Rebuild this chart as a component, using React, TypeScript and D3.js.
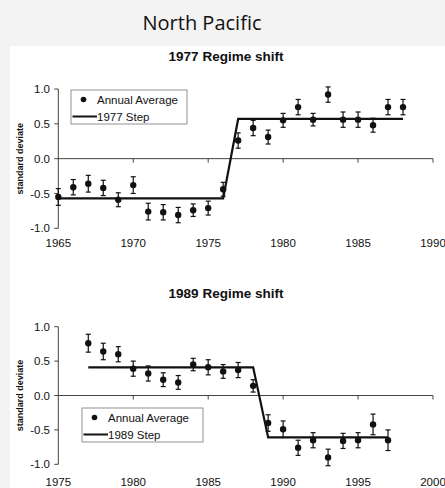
import React from "react";
import * as d3 from "d3";

const years1977 = d3.range(1965, 1989);
const avg1977 = [
  -0.55, -0.41, -0.36, -0.42, -0.59, -0.38, -0.76, -0.77, -0.81, -0.74, -0.71, -0.44,
  0.26, 0.44, 0.31, 0.55, 0.74, 0.56, 0.92, 0.56, 0.56, 0.48, 0.74, 0.74,
];
const err1977 = [
  0.12, 0.11, 0.12, 0.11, 0.1, 0.12, 0.12, 0.11, 0.11, 0.09, 0.1, 0.1,
  0.11, 0.11, 0.1, 0.1, 0.11, 0.09, 0.11, 0.11, 0.11, 0.1, 0.11, 0.11,
];
const step1977Years = [1965, 1976, 1977, 1988];
const step1977Values = [-0.57, -0.57, 0.57, 0.57];

const years1989 = d3.range(1977, 1998);
const avg1989 = [
  0.76, 0.64, 0.6, 0.39, 0.32, 0.23, 0.19, 0.45, 0.41, 0.35, 0.37, 0.14,
  -0.4, -0.49, -0.76, -0.65, -0.9, -0.66, -0.65, -0.42, -0.65,
];
const err1989 = [
  0.13, 0.12, 0.11, 0.11, 0.11, 0.1, 0.1, 0.09, 0.11, 0.1, 0.11, 0.09,
  0.12, 0.12, 0.11, 0.11, 0.12, 0.11, 0.11, 0.15, 0.15,
];
const step1989Years = [1977, 1988, 1989, 1997];
const step1989Values = [0.41, 0.41, -0.61, -0.61];

const yTicks = [1.0, 0.5, 0.0, -0.5, -1.0];

const font = "Liberation Sans, Arial, sans-serif";

type PanelProps = {
  title: string;
  titleY: number;
  top: number;
  bottom: number;
  xDomain: [number, number];
  years: number[];
  values: number[];
  errors: number[];
  stepYears: number[];
  stepValues: number[];
  stepLabel: string;
  legend: { x: number; y: number; w: number; h: number };
  labelGap: number;
};

function Panel(p: PanelProps) {
  const x = d3.scaleLinear().domain(p.xDomain).range([58.3, 433]);
  const y = d3.scaleLinear().domain([-1, 1]).range([p.bottom, p.top]);
  const xTicks = d3.range(p.xDomain[0], p.xDomain[1] + 1, 5);
  const stepLine = d3
    .line<number>()
    .x((_, i) => x(p.stepYears[i]))
    .y((v) => y(v));
  const axisColor = "#444";
  const lg = p.legend;
  return (
    <g fontFamily={font}>
      <text x={226} y={p.titleY} textAnchor="middle" fontWeight="bold" fontSize={13.5} fill="#111">
        {p.title}
      </text>
      <text
        transform={`translate(23,${y(0)}) rotate(-90)`}
        textAnchor="middle"
        fontWeight="bold"
        fontSize={9}
        fill="#111"
      >
        standard deviate
      </text>
      {/* y axis */}
      <line x1={x.range()[0]} x2={x.range()[0]} y1={y(1)} y2={y(-1)} stroke={axisColor} strokeWidth={1} />
      {yTicks.map((t) => (
        <g key={t}>
          <line x1={x.range()[0] - 4} x2={x.range()[0]} y1={y(t)} y2={y(t)} stroke={axisColor} />
          <text x={50} y={y(t)} dy="0.35em" textAnchor="end" fontSize={11.5} fill="#111">
            {t.toFixed(1)}
          </text>
        </g>
      ))}
      {/* x axis at zero */}
      <line x1={x.range()[0]} x2={x.range()[1]} y1={y(0)} y2={y(0)} stroke={axisColor} />
      {xTicks.map((t) => (
        <g key={t}>
          {t !== p.xDomain[0] && (
            <line x1={x(t)} x2={x(t)} y1={y(0)} y2={y(0) + 4} stroke={axisColor} />
          )}
          <text x={x(t)} y={y(-1) + p.labelGap} textAnchor="middle" fontSize={11.5} fill="#111">
            {t}
          </text>
        </g>
      ))}
      {/* step line */}
      <path d={stepLine(p.stepValues) || ""} fill="none" stroke="#111" strokeWidth={2.2} />
      {/* error bars and points */}
      {p.years.map((yr, i) => {
        const cx = x(yr);
        const hi = y(p.values[i] + p.errors[i]);
        const lo = y(p.values[i] - p.errors[i]);
        return (
          <g key={yr} stroke="#111" strokeWidth={1.2}>
            <line x1={cx} x2={cx} y1={hi} y2={lo} />
            <line x1={cx - 2.5} x2={cx + 2.5} y1={hi} y2={hi} />
            <line x1={cx - 2.5} x2={cx + 2.5} y1={lo} y2={lo} />
            <circle cx={cx} cy={y(p.values[i])} r={3.2} fill="#111" stroke="none" />
          </g>
        );
      })}
      {/* legend */}
      <rect x={lg.x} y={lg.y} width={lg.w} height={lg.h} fill="#fff" stroke="#777" strokeWidth={0.8} />
      <circle cx={lg.x + 12.5} cy={lg.y + 9.5} r={2.8} fill="#111" />
      <text x={lg.x + 26} y={lg.y + 10} dy="0.35em" fontSize={11.5} fill="#111">
        Annual Average
      </text>
      <line x1={lg.x + 1.5} x2={lg.x + 26} y1={lg.y + 26.5} y2={lg.y + 26.5} stroke="#111" strokeWidth={2} />
      <text x={lg.x + 26} y={lg.y + 26.5} dy="0.35em" fontSize={11.5} fill="#111">
        {p.stepLabel}
      </text>
    </g>
  );
}

export default function App() {
  return (
    <svg
      width={445}
      height={488}
      style={{ position: "absolute", left: 0, top: 0, display: "block" }}
    >
      <rect x={0} y={0} width={445} height={488} fill="#f3f3f3" />
      <rect x={10} y={46} width={435} height={442} fill="#fff" />
      <text x={202} y={30} textAnchor="middle" fontFamily="Open Sans, sans-serif" fontSize={20} fill="#111">
        North Pacific
      </text>
      <Panel
        title="1977 Regime shift"
        titleY={61}
        top={89}
        bottom={228.3}
        xDomain={[1965, 1990]}
        years={years1977}
        values={avg1977}
        errors={err1977}
        stepYears={step1977Years}
        stepValues={step1977Values}
        stepLabel="1977 Step"
        legend={{ x: 71, y: 90, w: 116, h: 34 }}
        labelGap={19}
      />
      <Panel
        title="1989 Regime shift"
        titleY={298}
        top={326.7}
        bottom={464.3}
        xDomain={[1975, 2000]}
        years={years1989}
        values={avg1989}
        errors={err1989}
        stepYears={step1989Years}
        stepValues={step1989Values}
        stepLabel="1989 Step"
        legend={{ x: 82, y: 408, w: 121, h: 34 }}
        labelGap={22}
      />
    </svg>
  );
}
